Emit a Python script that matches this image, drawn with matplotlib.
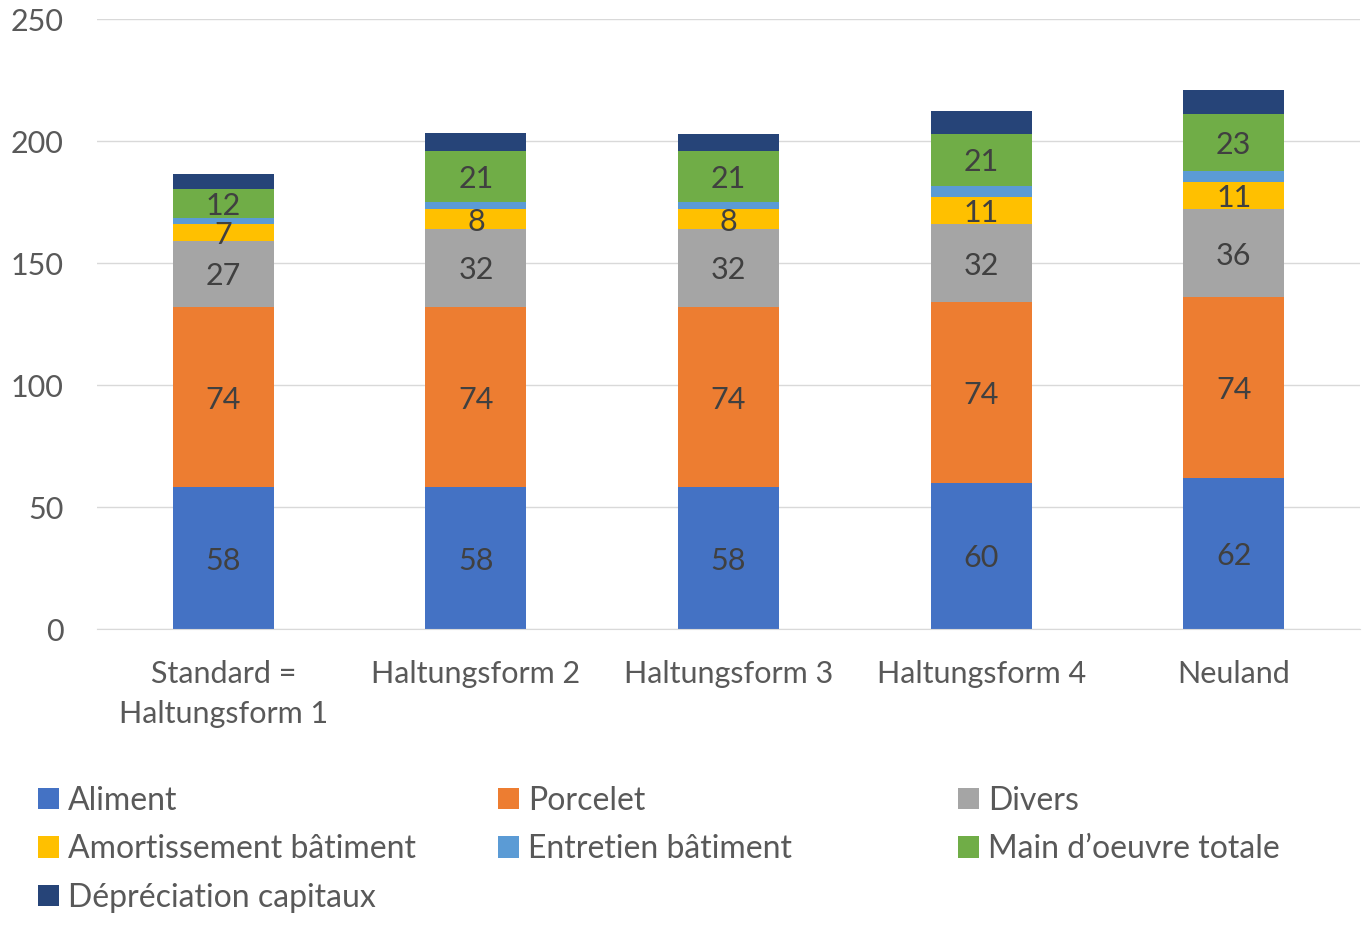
import numpy as np
import matplotlib.pyplot as plt
from matplotlib.patches import Patch

plt.rcParams['font.family'] = ['Lato', 'DejaVu Sans']

categories = ['Standard =\nHaltungsform 1', 'Haltungsform 2', 'Haltungsform 3',
              'Haltungsform 4', 'Neuland']
series = ['Aliment', 'Porcelet', 'Divers', 'Amortissement bâtiment',
          'Entretien bâtiment', "Main d\u2019oeuvre totale", 'Dépréciation capitaux']

aliment = [58, 58, 58, 60, 62]
porcelet = [74, 74, 74, 74, 74]
divers = [27, 32, 32, 32, 36]
amortissement = [7, 8, 8, 11, 11]
entretien = [2.3, 3, 3, 4.5, 4.8]
main_oeuvre = [12, 21, 21, 21.5, 23.3]
depreciation = [6, 7.2, 7, 9.4, 9.8]
label_values = [aliment, porcelet, divers, amortissement, None, [12, 21, 21, 21, 23], None]

colors = ['#4472C4', '#ED7D31', '#A5A5A5', '#FFC000', '#5B9BD5', '#70AD47', '#264478']
text_color = '#595959'

data = [aliment, porcelet, divers, amortissement, entretien, main_oeuvre, depreciation]

fig = plt.figure(figsize=(13.72, 9.3), dpi=100)
ax = fig.add_axes([97/1372, 1-629/930, (1360-97)/1372, 610/930])

x = np.arange(len(categories))
bottom = np.zeros(len(categories))
handles = []
for vals, col, name, labs in zip(data, colors, series, label_values):
    vals = np.array(vals, dtype=float)
    ax.bar(x, vals, width=0.4, bottom=bottom, color=col, label=name)
    handles.append(Patch(facecolor=col, label=name))
    if labs is not None:
        for xi, b, v, lab in zip(x, bottom, vals, labs):
            ax.text(xi, b + v/2, str(lab), ha='center', va='center_baseline',
                    fontsize=22, color='#404040')
    bottom += vals

ax.set_ylim(0, 250)
ax.set_xlim(-0.5, 4.5)
ax.set_yticks([0, 50, 100, 150, 200, 250])
ax.set_xticks(x)
ax.set_xticklabels(categories, fontsize=22, color=text_color, linespacing=1.55)
ax.tick_params(axis='y', labelsize=22, labelcolor=text_color, length=0, pad=24)
ax.tick_params(axis='x', length=0, pad=22)
ax.grid(axis='y', color='#D9D9D9', linewidth=1)
ax.set_axisbelow(True)
for s in ['top', 'right', 'left']:
    ax.spines[s].set_visible(False)
ax.spines['bottom'].set_color('#D9D9D9')

# legend: three columns placed by hand
cols = [[0, 3, 6], [1, 4], [2, 5]]
xs = [9, 469, 929]
for c, xp in zip(cols, xs):
    fig.legend(handles=[handles[i] for i in c], loc='upper left',
               bbox_to_anchor=(xp/1372, 1-757/930), frameon=False,
               fontsize=23, handlelength=0.65, handleheight=0.65,
               handletextpad=0.3, labelspacing=0.58, labelcolor=text_color)

fig.savefig('out.png', dpi=100)
